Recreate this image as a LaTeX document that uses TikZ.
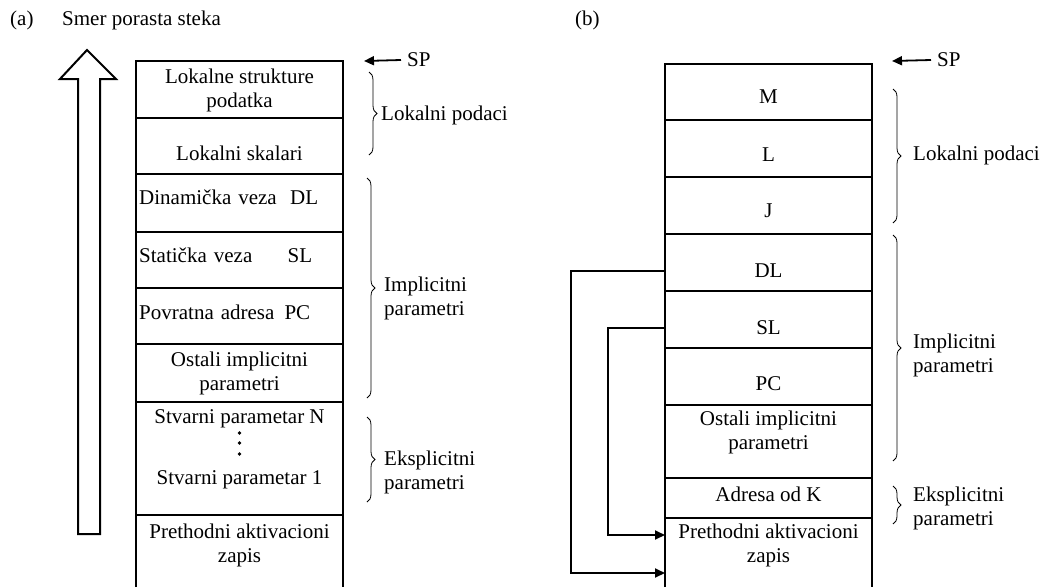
\documentclass[tikz,border=0pt]{standalone}
\usepackage{fontspec}
\setmainfont{Liberation Serif}
\usetikzlibrary{arrows.meta,decorations.pathreplacing,calc}

\begin{document}
\begin{tikzpicture}[x=1pt,y=-1pt,
  frame/.style={line width=2pt},
  lbl/.style={font=\fontsize{21}{24}\selectfont, inner sep=0pt, align=center},
  lft/.style={lbl, anchor=west, align=left},
  brc/.style={decorate, decoration={brace, amplitude=8pt}, line width=0.8pt},
  arr/.style={line width=1.8pt, -{Triangle[length=10pt,width=9pt]}},
]
\useasboundingbox (0,0) rectangle (1045,587);

% ---------- (a) ----------
\node[lft] (capa) at (10,20) {(a)};
\node[lft] (smer) at (62,20) {Smer porasta steka};

% growth direction (hollow arrow)
\draw[frame] (78,534) -- (78,79) -- (60,79) -- (87,50) -- (116,79) -- (100,79) -- (100,534) -- cycle;

% stack frame
\draw[frame] (136,587) -- (136,61) -- (343,61) -- (343,587);
\foreach \y in {118,174,232,288,344,402,515}
  \draw[frame] (136,\y) -- (343,\y);

\node[lbl] (lstruct) at (239.5,90) {Lokalne strukture\\podatka};
\node[lbl] (lskal) at (239.5,153) {Lokalni skalari};
\node[lft, text width=179pt] (dyn) at (139,197) {Dinamička veza \hfill DL};
\node[lft, text width=173pt] (stat) at (139,255) {Statička veza \hfill SL};
\node[lft, text width=171pt] (povr) at (139,312) {Povratna adresa \hfill PC};
\node[lbl] (ostA) at (239.5,373) {Ostali implicitni\\parametri};
\node[lbl] (stvN) at (239.5,419) {Stvarni parametar N};
\foreach \y in {433,443,454} \fill (239.5,\y) circle (1.9pt);
\node[lbl] (stv1) at (239.5,480) {Stvarni parametar 1};
\node[lbl] (prevA) at (239.5,545) {Prethodni aktivacioni\\zapis};

% stack pointer
\node[lft] (spA) at (407,60) {SP};
\coordinate (topA) at (364,61);
\draw[arr] ([xshift=-6pt]spA.west) -- (topA);

% groups
\draw[brc] (369,72) -- (369,155);
\node[lft] (lokA) at (381,115) {Lokalni podaci};
\draw[brc] (367,178) -- (367,398);
\node[lft] (impA) at (384,298) {Implicitni\\parametri};
\draw[brc] (367,417) -- (367,502);
\node[lft] (eksA) at (384,472) {Eksplicitni\\parametri};

% ---------- (b) ----------
\node[lft] (capb) at (575,20) {(b)};

\draw[frame] (665,587) -- (665,64) -- (872,64) -- (872,587);
\foreach \y in {120,177,234,291,348,405,478,518}
  \draw[frame] (665,\y) -- (872,\y);
\coordinate (bleft) at (665,0);

\node[lbl] (m) at (768.5,97) {M};
\node[lbl] (l) at (768.5,155) {L};
\node[lbl] (j) at (768.5,211) {J};
\node[lbl] (dl) at (768.5,271) {DL};
\node[lbl] (sl) at (768.5,328) {SL};
\node[lbl] (pc) at (768.5,384) {PC};
\node[lbl] (ostB) at (768.5,432) {Ostali implicitni\\parametri};
\node[lbl] (adr) at (768.5,494) {Adresa od K};
\node[lbl] (prevB) at (768.5,545) {Prethodni aktivacioni\\zapis};

% links into the previous record
\coordinate (dlIn) at (665,573);
\coordinate (slIn) at (665,535);
\draw[arr] (dl -| bleft) -- ++(-94,0) |- (dlIn);
\draw[arr] (sl -| bleft) -- ++(-57,0) |- (slIn);

% stack pointer
\node[lft] (spB) at (937,60) {SP};
\coordinate (topB) at (892,61);
\draw[arr] ([xshift=-6pt]spB.west) -- (topB);

% groups
\draw[brc] (893,89) -- (893,223);
\node[lft] (lokB) at (913,155) {Lokalni podaci};
\draw[brc] (893,235) -- (893,461);
\node[lft] (impB) at (913,355) {Implicitni\\parametri};
\draw[brc] (893,486) -- (893,524);
\node[lft] (eksB) at (913,508) {Eksplicitni\\parametri};
\end{tikzpicture}
\end{document}
